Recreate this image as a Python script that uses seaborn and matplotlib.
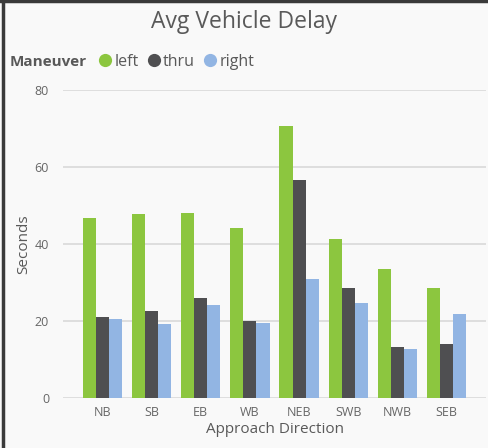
import matplotlib
matplotlib.use("Agg")
import matplotlib.pyplot as plt
from matplotlib.lines import Line2D
import pandas as pd
import seaborn as sns

directions = ["NB", "SB", "EB", "WB", "NEB", "SWB", "NWB", "SEB"]
maneuvers = ["left", "thru", "right"]
left_delay = [46.7, 47.8, 48.0, 44.2, 70.6, 41.4, 33.4, 28.7]
thru_delay = [21.0, 22.7, 26.1, 20.1, 56.6, 28.7, 13.2, 14.1]
right_delay = [20.4, 19.1, 24.2, 19.6, 30.8, 24.6, 12.7, 21.7]
y_ticks = [0, 20, 40, 60, 80]

colors = {"left": "#8CC63F", "thru": "#4F4F51", "right": "#92B5E3"}

df = pd.DataFrame({
    "Approach Direction": directions * 3,
    "Maneuver": ["left"] * 8 + ["thru"] * 8 + ["right"] * 8,
    "Seconds": left_delay + thru_delay + right_delay,
})

sns.set_theme(style="white")
plt.rcParams["font.family"] = ["Open Sans", "DejaVu Sans"]

bg = "#F9F9F9"
text_col = "#595959"
tick_col = "#666666"

fig = plt.figure(figsize=(4.88, 4.48), dpi=100, facecolor=bg)
ax = fig.add_axes([63 / 488, 1 - 398 / 448, (486 - 63) / 488, (398 - 90) / 448])
ax.set_facecolor(bg)

sns.barplot(data=df, x="Approach Direction", y="Seconds", hue="Maneuver",
            hue_order=maneuvers, order=directions, palette=colors,
            width=0.8, gap=0, saturation=1, ax=ax, legend=False,
            edgecolor="none", linewidth=0)

ax.set_ylim(0, 80)
ax.set_yticks(y_ticks)
ax.set_xlim(-0.8, 7.8)
ax.yaxis.grid(True, color="#D9D9D9", linewidth=1.2)
ax.set_axisbelow(True)
for s in ax.spines.values():
    s.set_visible(False)
ax.tick_params(axis="both", length=0, labelsize=9, labelcolor=tick_col)
ax.tick_params(axis="y", pad=10)
ax.tick_params(axis="x", pad=6)
ax.set_xlabel("Approach Direction", fontsize=11, color=text_col, labelpad=2)
ax.set_ylabel("Seconds", fontsize=11, color=text_col)
ax.yaxis.set_label_coords(-0.075, 0.5)

fig.text(0.5, 1 - 22 / 448, "Avg Vehicle Delay", ha="center", va="center",
         fontsize=16.5, color=text_col)

fig.text(10 / 488, 1 - 62 / 448, "Maneuver", ha="left", va="center",
         fontsize=11, fontweight="bold", color=text_col)
handles = [Line2D([], [], marker="o", linestyle="none", markersize=9.5,
                  markerfacecolor=colors[m], markeredgecolor="none")
           for m in maneuvers]
leg = fig.legend(handles, maneuvers, loc="center left",
                 bbox_to_anchor=(95 / 488, 1 - 62 / 448), ncol=3,
                 frameon=False, fontsize=11.5, handletextpad=0.0,
                 columnspacing=0.35, handlelength=1.2, borderaxespad=0,
                 borderpad=0)
for t in leg.get_texts():
    t.set_color(text_col)

# frame lines along top and left edges
fig.add_artist(Line2D([0, 1], [1 - 1.5 / 448] * 2, transform=fig.transFigure,
                      color="#3A3A3A", linewidth=2.5))
fig.add_artist(Line2D([3 / 488] * 2, [0, 1], transform=fig.transFigure,
                      color="#3A3A3A", linewidth=2.5))

fig.savefig("out.png", dpi=100, facecolor=bg)
